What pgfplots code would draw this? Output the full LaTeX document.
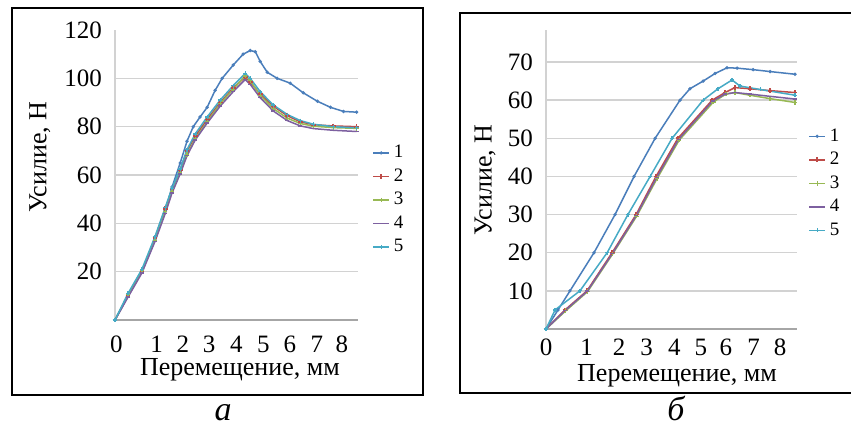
\documentclass[border=0pt]{standalone}
\usepackage{fontspec}
\setmainfont{Liberation Serif}
\usepackage{pgfplots}
\pgfplotsset{compat=1.18}

\definecolor{s1}{HTML}{4A7EBB}
\definecolor{s2}{HTML}{BE4B48}
\definecolor{s3}{HTML}{98B954}
\definecolor{s4}{HTML}{7D60A0}
\definecolor{s5}{HTML}{46AAC5}

\pgfplotsset{
  forcechart/.style={
    scale only axis,
    anchor=south west,
    axis x line=bottom, axis y line=left,
    axis line style={-},
    x axis line style={draw=gray!70, line width=0.7pt},
    y axis line style={draw=gray!35, line width=0.6pt},
    xmin=0, ymin=0,
    xticklabels={0,1,2,3,4,5,6,7,8},
    major tick length=0pt,
    ymajorgrids,
    grid style={gray!35, line width=0.7pt},
    tick label style={font=\fontsize{12.5}{12.5}\selectfont},
    /pgf/number format/assume math mode=true,
    yticklabel style={xshift=-3pt},
    label style={font=\fontsize{13}{13}\selectfont},
    legend cell align=left,
    legend style={draw=none, fill=none, inner sep=0pt, anchor=west,
      font=\fontsize{9.5}{9.5}\selectfont, row sep=0pt},
    legend image code/.code={%
      \draw[mark repeat=2,mark phase=2] plot coordinates {(0pt,0pt) (4pt,0pt) (8pt,0pt)};},
    every axis plot/.append style={line width=0.75pt},
  },
  c1/.style={color=s1, mark=*, mark size=0.4pt},
  c2/.style={color=s2, mark=+, mark size=1.2pt, mark options={line width=0.9pt}},
  c3/.style={color=s3, mark=+, mark size=1.1pt, mark options={line width=0.6pt}},
  c4/.style={color=s4, mark=-, mark size=1pt},
  c5/.style={color=s5, mark=+, mark size=1pt, mark options={line width=0.6pt}},
}

\begin{document}
\begin{tikzpicture}
\useasboundingbox (0,0) rectangle (425.5pt,217pt);
\fill[white] (0,0) rectangle (425.5pt,217pt);
\draw[line width=0.7pt] (6pt,19.5pt) rectangle (211.5pt,213pt);
\draw[line width=0.7pt] (426pt,210.5pt) -- (230pt,210.5pt) -- (230pt,20.5pt) -- (426pt,20.5pt);

% а
\begin{axis}[forcechart,
  at={(57.5pt,57pt)}, width=121.5pt, height=145pt,
  xmax=8.57, ymax=120,
  xtick={0.05,1.47,2.39,3.32,4.28,5.23,6.17,7.12,8.00},
  xticklabel style={yshift=-4.5pt},
  ytick={20,40,60,80,100},
  extra y ticks={120}, extra y tick style={grid=none},
  xlabel={Перемещение, мм}, ylabel={Усилие, Н},
  xlabel style={at={(axis description cs:0.514,-0.172)}, anchor=center},
  ylabel style={at={(axis description cs:-0.309,0.562)}, anchor=center},
  legend style={at={(axis description cs:1.058,0.414)}},
]
\addplot[c1] coordinates {(0,0) (0.46,10) (0.95,20) (1.41,33) (1.77,45) (2.01,55) (2.30,65) (2.54,74) (2.76,80) (3.00,84) (3.25,88) (3.53,95) (3.78,100) (4.17,105.5) (4.52,110) (4.77,111.5) (4.95,111) (5.12,107) (5.37,102.5) (5.72,100) (6.18,98) (6.64,94) (7.14,90.5) (7.60,88) (8.06,86.3) (8.52,86)};
\addplot[c2] coordinates {(0,0) (0.46,10) (0.95,20) (1.41,34) (1.77,46) (2.01,54) (2.30,62) (2.54,70) (2.83,76) (3.25,83) (3.71,90) (4.17,96) (4.59,100.5) (4.77,98.5) (5.12,93.5) (5.58,88.5) (6.08,84.5) (6.54,82) (7.00,80.8) (7.70,80.3) (8.52,80)};
\addplot[c3] coordinates {(0,0) (0.46,10.5) (0.95,20.5) (1.41,33) (1.77,45) (2.01,53) (2.30,61) (2.54,68.5) (2.83,75) (3.25,82) (3.71,89.5) (4.17,95.5) (4.59,101) (4.77,99) (5.12,93) (5.58,87.5) (6.08,83.5) (6.54,81.3) (7.00,80.2) (7.70,79.6) (8.52,79.3)};
\addplot[c4] coordinates {(0,0) (0.46,9.5) (0.95,19.5) (1.41,32.5) (1.77,44) (2.01,52.5) (2.30,60.5) (2.54,68) (2.83,74.5) (3.25,81.5) (3.71,88.5) (4.17,94.5) (4.59,99.5) (4.77,97.5) (5.12,92) (5.58,86.5) (6.08,82.5) (6.54,80.3) (7.00,79.2) (7.70,78.5) (8.52,78)};
\addplot[c5] coordinates {(0,0) (0.46,11) (0.95,21) (1.41,34.5) (1.77,46.5) (2.01,54.5) (2.30,62.5) (2.54,70.5) (2.83,77) (3.25,84) (3.71,91) (4.17,97) (4.59,102) (4.77,100) (5.12,94.5) (5.58,89) (6.08,85) (6.54,82.5) (7.00,81) (7.70,80) (8.52,79.5)};
\legend{1,2,3,4,5}
\end{axis}

% б
\begin{axis}[forcechart,
  at={(273pt,52.5pt)}, width=125.5pt, height=149.5pt,
  xmax=8.58, ymax=78.4,
  xtick={0,1.39,2.50,3.44,4.39,5.29,6.15,7.10,8.00},
  xticklabel style={yshift=-1.5pt},
  ytick={10,20,30,40,50,60,70},
  xlabel={Перемещение, мм}, ylabel={Усилие, Н},
  xlabel style={at={(axis description cs:0.522,-0.158)}, anchor=center},
  ylabel style={at={(axis description cs:-0.243,0.498)}, anchor=center},
  legend style={at={(axis description cs:1.044,0.487)}},
]
\addplot[c1] coordinates {(0,0) (0.41,5) (0.82,10) (1.64,20) (2.36,30) (3.01,40) (3.73,50) (4.58,60) (4.92,63) (5.37,65) (5.78,67) (6.19,68.5) (6.53,68.4) (7.08,68) (7.66,67.5) (8.51,66.8)};
\addplot[c2] coordinates {(0,0) (0.65,5) (1.40,10) (2.26,20) (3.08,30) (3.76,40) (4.51,50) (5.68,60) (6.12,62) (6.46,63.3) (6.97,63) (7.66,62.5) (8.51,62)};
\addplot[c3] coordinates {(0,0) (0.68,4.8) (1.42,9.8) (2.28,19.7) (3.10,29.6) (3.80,39.5) (4.55,49.5) (5.72,59.5) (6.15,61.6) (6.46,62) (6.97,61.3) (7.66,60.4) (8.51,59.4)};
\addplot[c4] coordinates {(0,0) (0.66,4.9) (1.41,9.9) (2.27,19.8) (3.09,29.8) (3.78,39.7) (4.53,49.7) (5.70,59.8) (6.13,61.6) (6.46,62) (6.97,61.6) (7.66,61) (8.51,60.3)};
\addplot[c5] coordinates {(0,0) (0.31,5) (1.16,10) (2.09,20) (2.80,30) (3.56,40) (4.31,50) (5.37,60) (5.88,63) (6.36,65.3) (6.63,63.7) (7.32,62.8) (8.51,61.3)};
\legend{1,2,3,4,5}
\end{axis}

\node[font=\itshape\fontsize{17}{17}\selectfont] at (111.5pt,10.5pt) {а};
\node[font=\itshape\fontsize{17}{17}\selectfont] at (338pt,13pt) {б};
\end{tikzpicture}
\end{document}
